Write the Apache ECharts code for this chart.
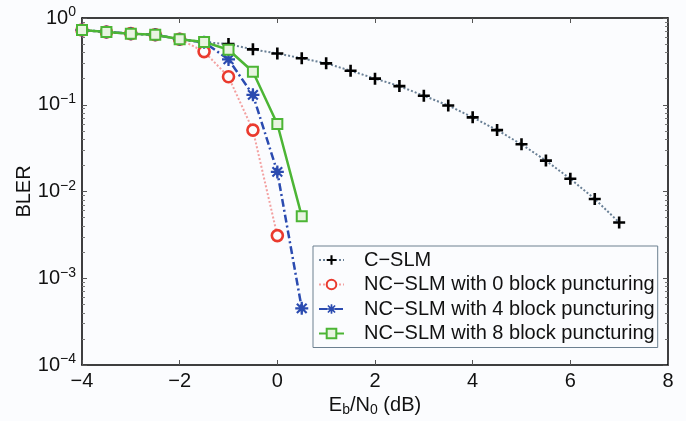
<!DOCTYPE html>
<html>
<head>
<meta charset="utf-8">
<script src="https://cdn.jsdelivr.net/npm/echarts@6/dist/echarts.min.js"></script>
<style>
  html, body { margin: 0; padding: 0; background: #fbfcfe; }
  #chart { width: 686px; height: 421px; }
</style>
</head>
<body>
<div id="chart"></div>
<script>
const cslmX = [-4, -3.5, -3, -2.5, -2, -1.5, -1, -0.5, 0, 0.5, 1, 1.5, 2, 2.5, 3, 3.5, 4, 4.5, 5, 5.5, 6, 6.5, 7]
const cslmY = [0.727, 0.69, 0.66, 0.64, 0.57, 0.525, 0.5, 0.435, 0.39, 0.343, 0.3, 0.247, 0.2, 0.164, 0.127, 0.098, 0.0716, 0.051, 0.035, 0.0227, 0.014, 0.0082, 0.0044]

const nc0X = [-4, -3.5, -3, -2.5, -2, -1.5, -1, -0.5, 0]
const nc0Y = [0.727, 0.69, 0.66, 0.64, 0.57, 0.41, 0.21, 0.051, 0.0031]

const nc4X = [-4, -3.5, -3, -2.5, -2, -1.5, -1, -0.5, 0, 0.5]
const nc4Y = [0.727, 0.69, 0.66, 0.64, 0.57, 0.525, 0.333, 0.13, 0.0168, 0.00045]

const nc8X = [-4, -3.5, -3, -2.5, -2, -1.5, -1, -0.5, 0, 0.5]
const nc8Y = [0.727, 0.69, 0.66, 0.64, 0.57, 0.53, 0.43, 0.24, 0.06, 0.0052]

const seriesNames = ['C\u2212SLM', 'NC\u2212SLM with 0 block puncturing', 'NC\u2212SLM with 4 block puncturing', 'NC\u2212SLM with 8 block puncturing']
const xTicks = [-4, -2, 0, 2, 4, 6, 8]
const decades = [-4, -3, -2, -1]
const minorMult = [2, 3, 4, 5, 6, 7, 8, 9]

// minor tick positions on the log axis, in log10 units
const minorLog = []
decades.forEach(d => minorMult.forEach(m => minorLog.push(d + Math.log10(m))))

const pair = (xs, ys) => xs.map((x, i) => [x, ys[i]])

const plusPath = 'path://M-1.3,-6h2.6v4.7h4.7v2.6h-4.7v4.7h-2.6v-4.7h-4.7v-2.6h4.7z'
const starPath = 'path://M-1,-6h2l0.2,3.6l2.6,-2.6l1.4,1.4l-2.6,2.6l3.4,0v2l-3.4,0l2.6,2.6l-1.4,1.4l-2.6,-2.6l-0.2,3.6h-2l-0.2,-3.6l-2.6,2.6l-1.4,-1.4l2.6,-2.6l-3.4,0v-2l3.4,0l-2.6,-2.6l1.4,-1.4l2.6,2.6z'

const font = 'Liberation Sans, Arial, sans-serif'
const bg = '#fbfcfe'

const chart = echarts.init(document.getElementById('chart'))

const frameLine = { onZero: false, lineStyle: { color: '#000', width: 1.5 } }
const majorTick = { inside: true, length: 5, lineStyle: { color: '#555' } }
const minorTick = { inside: true, length: 3, customValues: minorLog, lineStyle: { color: '#777' } }

chart.setOption({
  backgroundColor: bg,
  animation: false,
  grid: { left: 82, right: 18, top: 18, bottom: 56, outerBoundsMode: 'none' },
  legend: {
    left: 313,
    top: 246,
    orient: 'vertical',
    itemGap: 4.5,
    itemWidth: 25,
    itemHeight: 12,
    padding: [4, 3, 4, 5],
    borderColor: '#6c8090',
    borderWidth: 1,
    backgroundColor: bg,
    borderRadius: 0,
    textStyle: { fontFamily: font, fontSize: 20, color: '#111', padding: [0, 0, 0, 15] },
    data: seriesNames
  },
  xAxis: [
    {
      type: 'value',
      min: -4,
      max: 8,
      interval: 2,
      name: 'E{sub|b}/N{sub|0} (dB)',
      nameLocation: 'middle',
      nameGap: 27,
      nameTextStyle: {
        fontFamily: font, fontSize: 20, color: '#111',
        rich: { sub: { fontFamily: font, fontSize: 14, verticalAlign: 'bottom', padding: [9, 0, 0, 0], color: '#111' } }
      },
      axisLine: frameLine,
      axisTick: majorTick,
      axisLabel: {
        fontFamily: font, fontSize: 20, color: '#111', margin: 6,
        formatter: v => xTicks.includes(v) ? String(v).replace('-', '\u2212') : ''
      },
      splitLine: { show: false }
    },
    {
      type: 'value',
      position: 'top',
      min: -4,
      max: 8,
      interval: 2,
      axisLine: frameLine,
      axisTick: majorTick,
      axisLabel: { show: false },
      splitLine: { show: false }
    }
  ],
  yAxis: [
    {
      type: 'log',
      logBase: 10,
      min: 1e-4,
      max: 1,
      name: 'BLER',
      nameLocation: 'middle',
      nameGap: 48,
      nameMoveOverlap: false,
      nameTextStyle: { fontFamily: font, fontSize: 20, color: '#111' },
      axisLine: frameLine,
      axisTick: majorTick,
      axisLabel: {
        fontFamily: font, fontSize: 20, color: '#111', margin: 6,
        formatter: v => '10{sup|' + String(Math.round(Math.log10(v))).replace('-', '\u2212') + '}',
        rich: { sup: { fontFamily: font, fontSize: 14, verticalAlign: 'top', padding: [0, 0, 11, 0], color: '#111' } }
      },
      splitLine: { show: false }
    },
    {
      type: 'value',
      position: 'left',
      min: -4,
      max: 0,
      axisLine: { show: false, onZero: false },
      axisTick: minorTick,
      axisLabel: { show: false },
      splitLine: { show: false }
    },
    {
      type: 'log',
      logBase: 10,
      position: 'right',
      min: 1e-4,
      max: 1,
      axisLine: frameLine,
      axisTick: majorTick,
      axisLabel: { show: false },
      splitLine: { show: false }
    },
    {
      type: 'value',
      position: 'right',
      min: -4,
      max: 0,
      axisLine: { show: false, onZero: false },
      axisTick: minorTick,
      axisLabel: { show: false },
      splitLine: { show: false }
    }
  ],
  series: [
    {
      name: seriesNames[0],
      type: 'line',
      data: pair(cslmX, cslmY),
      symbol: plusPath,
      symbolSize: 12,
      z: 2,
      itemStyle: { color: '#000' },
      lineStyle: { color: '#6a8096', width: 2, type: [2, 2] }
    },
    {
      name: seriesNames[1],
      type: 'line',
      data: pair(nc0X, nc0Y),
      symbol: 'circle',
      symbolSize: 11,
      z: 3,
      itemStyle: { color: bg, borderColor: '#ea3a2e', borderWidth: 2.6 },
      lineStyle: { color: '#f3a0a0', width: 2, type: [2, 2] }
    },
    {
      name: seriesNames[2],
      type: 'line',
      data: pair(nc4X, nc4Y),
      symbol: starPath,
      symbolSize: 13,
      z: 4,
      itemStyle: { color: '#2b4bb0' },
      lineStyle: { color: '#2b4bb0', width: 2.5, type: [8, 3, 2, 3] }
    },
    {
      name: seriesNames[3],
      type: 'line',
      data: pair(nc8X, nc8Y),
      symbol: 'rect',
      symbolSize: 10,
      z: 5,
      itemStyle: { color: '#e8f4e0', borderColor: '#4cb535', borderWidth: 2 },
      lineStyle: { color: '#4cb535', width: 2.5 }
    }
  ]
})

window.addEventListener('resize', () => chart.resize())
</script>
</body>
</html>
